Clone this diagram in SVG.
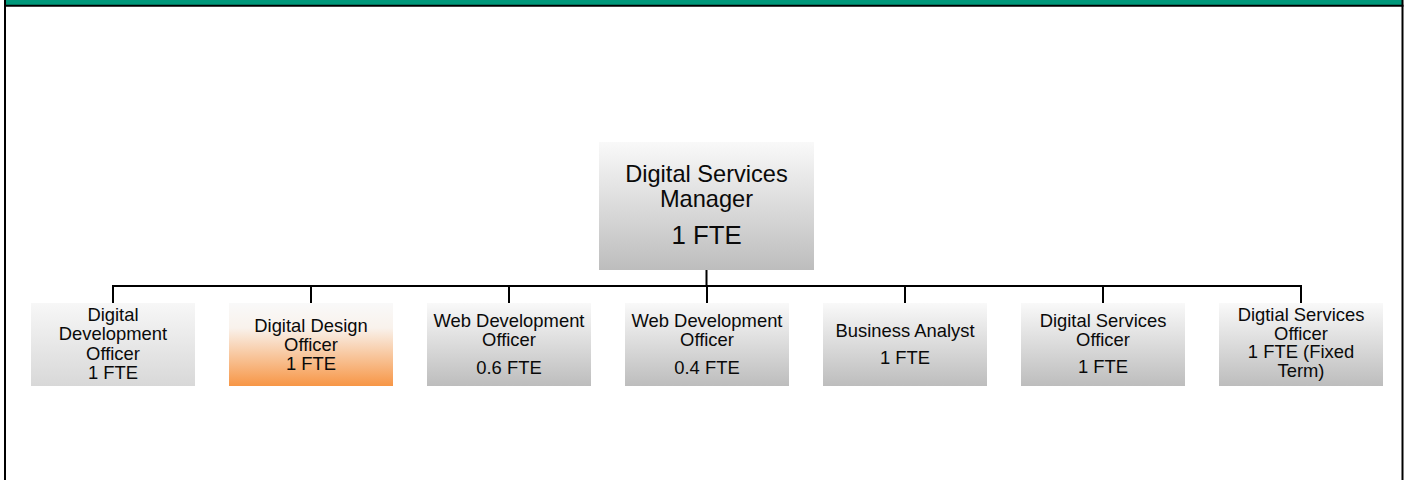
<svg xmlns="http://www.w3.org/2000/svg" width="1405" height="480" viewBox="0 0 1405 480">
  <defs>
    <linearGradient id="gGrey" x1="0" y1="0" x2="0" y2="1">
      <stop offset="0" stop-color="#f9f9f9"/>
      <stop offset="1" stop-color="#bdbdbd"/>
    </linearGradient>
    <linearGradient id="gLight" x1="0" y1="0" x2="0" y2="1">
      <stop offset="0" stop-color="#f7f7f7"/>
      <stop offset="1" stop-color="#d8d8d8"/>
    </linearGradient>
    <linearGradient id="gOrange" x1="0" y1="0" x2="0" y2="1">
      <stop offset="0" stop-color="#f9f9f9"/>
      <stop offset="0.3" stop-color="#f9f2ec"/>
      <stop offset="1" stop-color="#f79646"/>
    </linearGradient>
    <style>
      .t { font-family: "Liberation Sans", Arial, sans-serif; fill: #0a0a0a; text-anchor: middle; }
      .c { font-size: 18.4px; }
      .m { font-size: 23.6px; }
      .mf { font-size: 25.8px; }
      .ln { stroke: #000; stroke-width: 2; fill: none; }
    </style>
  </defs>
  <rect x="0" y="0" width="1405" height="480" fill="#fff"/>
  <g id="frame">
    <rect x="5" y="0" width="1397" height="5" fill="#00987a"/>
    <line x1="4" y1="5.7" x2="1403.5" y2="5.7" stroke="#000" stroke-width="2"/>
    <line x1="5" y1="0" x2="5" y2="480" stroke="#000" stroke-width="2"/>
    <line x1="1402.5" y1="0" x2="1402.5" y2="480" stroke="#000" stroke-width="2"/>
  </g>
  <g id="connectors">
    <path class="ln" d="M706.5 270 V286 M113 286 H1301 M113 285 V303 M311 285 V303 M509 285 V303 M707 285 V303 M905 285 V303 M1103 285 V303 M1301 285 V303"/>
  </g>
  <g id="manager">
    <rect x="599" y="142" width="215" height="128" fill="url(#gGrey)"/>
    <text class="t m" x="706.5" y="182">Digital Services</text>
    <text class="t m" x="706.5" y="206.5">Manager</text>
    <text class="t mf" x="706.5" y="244">1 FTE</text>
  </g>
  <g id="n1">
    <rect x="31" y="303" width="164" height="83" fill="url(#gLight)"/>
    <text class="t c" x="113" y="321">Digital</text>
    <text class="t c" x="113" y="340">Development</text>
    <text class="t c" x="113" y="359.5">Officer</text>
    <text class="t c" x="113" y="379">1 FTE</text>
  </g>
  <g id="n2">
    <rect x="229" y="303" width="164" height="83" fill="url(#gOrange)"/>
    <text class="t c" x="311" y="331.5">Digital Design</text>
    <text class="t c" x="311" y="350.5">Officer</text>
    <text class="t c" x="311" y="369.5">1 FTE</text>
  </g>
  <g id="n3">
    <rect x="427" y="303" width="164" height="83" fill="url(#gGrey)"/>
    <text class="t c" x="509" y="327">Web Development</text>
    <text class="t c" x="509" y="346">Officer</text>
    <text class="t c" x="509" y="374">0.6 FTE</text>
  </g>
  <g id="n4">
    <rect x="625" y="303" width="164" height="83" fill="url(#gGrey)"/>
    <text class="t c" x="707" y="327">Web Development</text>
    <text class="t c" x="707" y="346">Officer</text>
    <text class="t c" x="707" y="374">0.4 FTE</text>
  </g>
  <g id="n5">
    <rect x="823" y="303" width="164" height="83" fill="url(#gGrey)"/>
    <text class="t c" x="905" y="337">Business Analyst</text>
    <text class="t c" x="905" y="364">1 FTE</text>
  </g>
  <g id="n6">
    <rect x="1021" y="303" width="164" height="83" fill="url(#gGrey)"/>
    <text class="t c" x="1103" y="327">Digital Services</text>
    <text class="t c" x="1103" y="346">Officer</text>
    <text class="t c" x="1103" y="373">1 FTE</text>
  </g>
  <g id="n7">
    <rect x="1219" y="303" width="164" height="83" fill="url(#gGrey)"/>
    <text class="t c" x="1301" y="321">Digtial Services</text>
    <text class="t c" x="1301" y="339.5">Officer</text>
    <text class="t c" x="1301" y="358">1 FTE (Fixed</text>
    <text class="t c" x="1301" y="376.5">Term)</text>
  </g>
</svg>
